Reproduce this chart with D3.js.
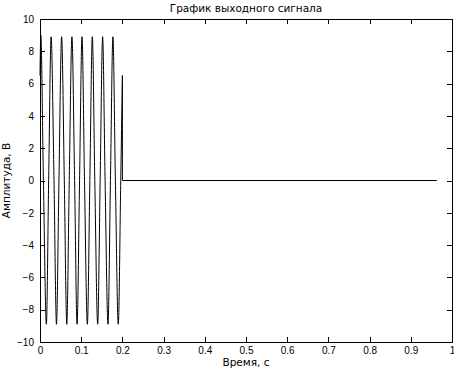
<!DOCTYPE html>
<html><head><meta charset="utf-8">
<script src="https://cdn.jsdelivr.net/npm/d3@7"></script>
<style>
html,body{margin:0;padding:0;background:#fff;}
text{fill:#000;}
</style></head>
<body><svg id="chart" width="454" height="375"></svg>
<script>
// Signal key points (time, s ; amplitude, V)
const sigTime  = [0, 0.002, 0.0083, 0.0155, 0.021, 0.027, 0.034, 0.040, 0.046, 0.0525, 0.059, 0.065, 0.071, 0.0775, 0.084, 0.090, 0.096, 0.102, 0.108, 0.115, 0.121, 0.127, 0.133, 0.140, 0.146, 0.152, 0.158, 0.165, 0.171, 0.177, 0.183, 0.190, 0.196, 0.2];
const sigValue = [6.5, 9.0, 0, -8.9, 0, 8.9, 0, -8.9, 0, 8.9, 0, -8.9, 0, 8.9, 0, -8.9, 0, 8.9, 0, -8.9, 0, 8.9, 0, -8.9, 0, 8.9, 0, -8.9, 0, 8.9, 0, -8.9, 0, 6.5];
// After the burst: drop to zero and flat line
const tailTime  = [0.2, 0.2, 0.963];
const tailValue = [6.5, 0, 0];

const xTicks = [0, 0.1, 0.2, 0.3, 0.4, 0.5, 0.6, 0.7, 0.8, 0.9, 1];
const yTicks = [-10, -8, -6, -4, -2, 0, 2, 4, 6, 8, 10];
const titleText = "График выходного сигнала";
const xLabel = "Время, с";
const yLabel = "Амплитуда, В";

const svg = d3.select("#chart");
const L = 40, R = 452, T = 19, B = 342;
const x = d3.scaleLinear().domain([0, 1]).range([L, R]);
const y = d3.scaleLinear().domain([-10, 10]).range([B, T]);

const tickFont = '"Liberation Sans",Arial,sans-serif';
const labelFont = '"DejaVu Sans",sans-serif';
const tl = 5;
const gB = svg.append("g").attr("transform", `translate(0,${B})`)
  .call(d3.axisBottom(x).tickValues(xTicks).tickSizeInner(-tl).tickSizeOuter(0).tickPadding(5).tickFormat(d => String(+d.toFixed(1))));
const gT = svg.append("g").attr("transform", `translate(0,${T})`)
  .call(d3.axisTop(x).tickValues(xTicks).tickSizeInner(-tl).tickSizeOuter(0).tickFormat(""));
const gL = svg.append("g").attr("transform", `translate(${L},0)`)
  .call(d3.axisLeft(y).tickValues(yTicks).tickSizeInner(-tl).tickSizeOuter(0).tickPadding(6));
const gR = svg.append("g").attr("transform", `translate(${R},0)`)
  .call(d3.axisRight(y).tickValues(yTicks).tickSizeInner(-tl).tickSizeOuter(0).tickFormat(""));
[gB, gT, gL, gR].forEach(g => {
  g.selectAll("path.domain").remove();
  g.selectAll("line").attr("stroke", "#000").attr("shape-rendering", "crispEdges");
  g.selectAll("text").attr("font-size", 10).attr("font-family", tickFont).attr("fill", "#000");
});
// Frame
svg.append("rect").attr("x", L).attr("y", T).attr("width", R - L).attr("height", B - T)
  .attr("fill", "none").attr("stroke", "#000").attr("shape-rendering", "crispEdges");

// Signal
const sig = sigTime.map((t, i) => [t, sigValue[i]]);
const tail = tailTime.map((t, i) => [t, tailValue[i]]);
const lineCurve = d3.line().x(d => x(d[0])).y(d => y(d[1])).curve(d3.curveMonotoneX);
const lineLin = d3.line().x(d => x(d[0])).y(d => y(d[1]));
svg.append("path").attr("d", lineCurve(sig)).attr("fill", "none").attr("stroke", "#000").attr("stroke-width", 1);
svg.append("path").attr("d", lineLin(tail)).attr("fill", "none").attr("stroke", "#000").attr("stroke-width", 1);

// Texts
svg.append("text").attr("x", (L + R) / 2).attr("y", 12).attr("text-anchor", "middle").attr("font-size", 10.5).attr("font-family", labelFont).text(titleText);
svg.append("text").attr("x", (L + R) / 2).attr("y", 366).attr("text-anchor", "middle").attr("font-size", 10.5).attr("font-family", labelFont).text(xLabel);
svg.append("text").attr("transform", `translate(10,${(T + B) / 2}) rotate(-90)`).attr("text-anchor", "middle").attr("font-size", 10.5).attr("font-family", labelFont).text(yLabel);
</script></body></html>
